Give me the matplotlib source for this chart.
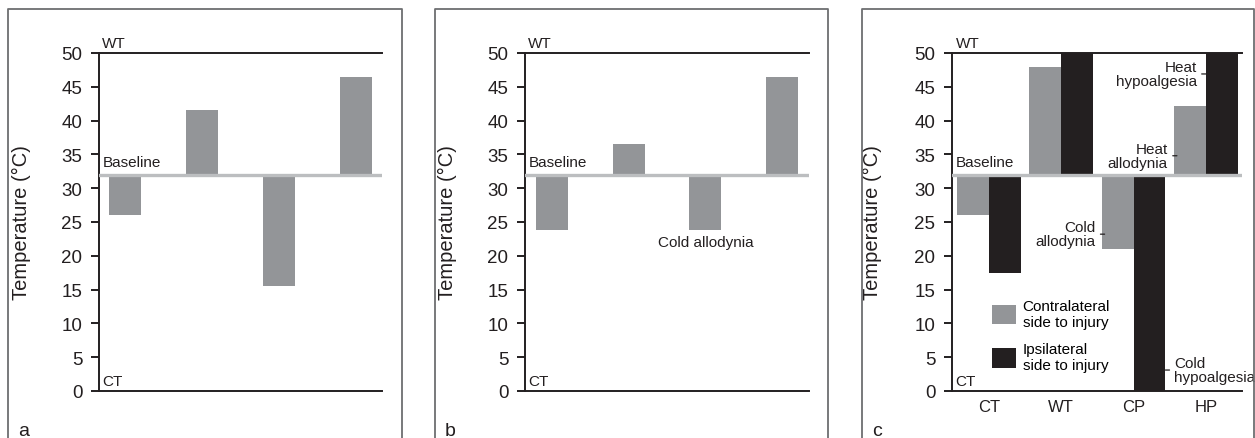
import matplotlib
matplotlib.use("Agg")
import matplotlib.pyplot as plt
from matplotlib.lines import Line2D

plt.rcParams['font.family'] = ['Liberation Sans', 'DejaVu Sans']

# values (deg C)
categories = ['CT', 'WT', 'CP', 'HP']
baseline = 32
panel_a = [26, 41.5, 15.6, 46.5]
panel_b = [23.8, 36.5, 23.8, 46.5]
contralateral = [26, 48, 21, 42.2]
ipsilateral = [17.5, 50, 0, 50]
yticks = list(range(0, 55, 5))

GRAY = '#939598'
BLACK = '#231f20'
LINE = '#bcbec0'
W, H = 1255, 439


def px(x0, y0, x1, y1):
    # pixel box (top-left origin) -> figure fraction rect
    return [x0 / W, 1 - y1 / H, (x1 - x0) / W, (y1 - y0) / H]


def setup(ax, xlim):
    ax.set_ylim(0, 50)
    ax.set_xlim(*xlim)
    ax.set_yticks(yticks)
    for s in ['left', 'top', 'bottom']:
        ax.spines[s].set_color(BLACK)
        ax.spines[s].set_linewidth(1.4)
    ax.spines['right'].set_visible(False)
    ax.tick_params(axis='y', direction='out', length=5.5, width=1.4,
                   color=BLACK, labelsize=13.5, pad=6.5, labelcolor=BLACK)
    ax.set_ylabel('Temperature (°C)', fontsize=14.5, color=BLACK)
    ax.yaxis.set_label_coords(-0.24, 0.5)
    ax.axhline(baseline, color=LINE, lw=2.4, zorder=3)
    tr = ax.get_yaxis_transform()
    ax.text(0.012, 50.4, 'WT', transform=tr, fontsize=11, va='bottom', color=BLACK)
    ax.text(0.012, baseline + 0.9, 'Baseline', transform=tr, fontsize=11,
            va='bottom', color=BLACK)
    ax.text(0.012, 0.5, 'CT', transform=tr, fontsize=11, va='bottom', color=BLACK)


def frame(x0, x1, letter):
    fx0, fx1 = x0 / W, x1 / W
    ftop = 1 - 10 / H
    fig.add_artist(Line2D([fx0, fx0, fx1, fx1], [0, ftop, ftop, 0],
                          transform=fig.transFigure, color='#6d6e71', lw=1.3))
    fig.text(fx0 + 10 / W, 1 - 436 / H, letter, fontsize=14, color=BLACK,
             va='baseline')


fig = plt.figure(figsize=(W / 100, H / 100), dpi=100)

# panel a
ax_a = fig.add_axes(px(99, 54, 382, 392))
setup(ax_a, (-0.338, 3.338))
xa = range(len(panel_a))
ax_a.bar(xa, [v - baseline for v in panel_a], bottom=baseline, width=0.42,
         color=GRAY, zorder=2)
ax_a.set_xticks([])

# panel b
ax_b = fig.add_axes(px(525, 54, 809, 392))
setup(ax_b, (-0.35, 3.35))
xb = range(len(panel_b))
ax_b.bar(xb, [v - baseline for v in panel_b], bottom=baseline, width=0.42,
         color=GRAY, zorder=2)
ax_b.set_xticks([])
ax_b.text(2, 22, 'Cold allodynia', fontsize=11, ha='center', va='center', color=BLACK)

# panel c
ax_c = fig.add_axes(px(952, 54, 1242, 392))
setup(ax_c, (-0.51, 3.5))
bw = 0.44
xc = list(range(len(categories)))
ax_c.bar(xc, [v - baseline for v in contralateral], bottom=baseline, width=-bw,
         align='edge', color=GRAY, zorder=2, label='Contralateral\nside to injury')
ax_c.bar(xc, [v - baseline for v in ipsilateral], bottom=baseline, width=bw,
         align='edge', color=BLACK, zorder=2, label='Ipsilateral\nside to injury')
ax_c.set_xticks(xc)
ax_c.set_xticklabels(categories)
ax_c.tick_params(axis='x', length=0, labelsize=12, pad=6, labelcolor=BLACK)

arrow = dict(arrowstyle='-', lw=0.9, color=BLACK, shrinkA=1.5, shrinkB=0)
ax_c.annotate('Heat\nhypoalgesia', xy=(3, 46.9), xytext=(-6.5, 0),
              textcoords='offset points', ha='right', va='center', fontsize=11,
              linespacing=1.0, arrowprops=arrow, color=BLACK)
ax_c.annotate('Heat\nallodynia', xy=(3 - bw + 0.04, 34.8), xytext=(-6.5, 0),
              textcoords='offset points', ha='right', va='center', fontsize=11,
              linespacing=1.0, arrowprops=arrow, color=BLACK)
ax_c.annotate('Cold\nallodynia', xy=(2 - bw + 0.04, 23.2), xytext=(-6.5, 0),
              textcoords='offset points', ha='right', va='center', fontsize=11,
              linespacing=1.0, arrowprops=arrow, color=BLACK)
ax_c.annotate('Cold\nhypoalgesia', xy=(2 + bw, 3.1), xytext=(6.5, 0),
              textcoords='offset points', ha='left', va='center', fontsize=11,
              linespacing=1.0, arrowprops=arrow, color=BLACK, annotation_clip=False)

ax_c.legend(loc='upper left', bbox_to_anchor=(0.138, 0.272), frameon=False,
            fontsize=11, handlelength=1.6, handleheight=1.6, handletextpad=0.4,
            labelspacing=0.85, borderpad=0, borderaxespad=0)

frame(8, 402, 'a')
frame(435, 828, 'b')
frame(862, 1254, 'c')

fig.savefig('out.png', dpi=100)
